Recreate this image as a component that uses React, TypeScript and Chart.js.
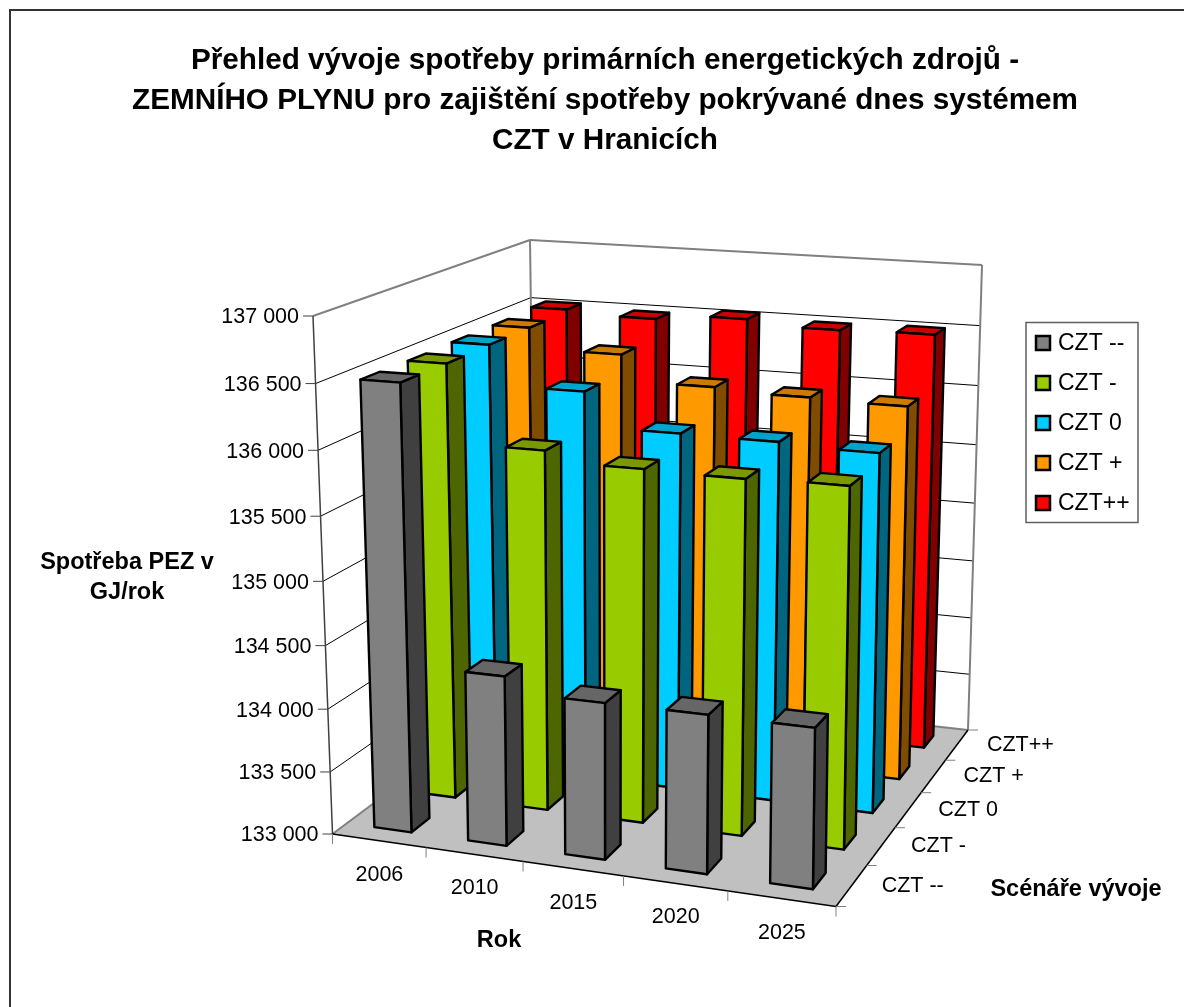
import React, { useEffect, useRef } from "react";
import { Chart, BarController, BarElement, CategoryScale, LinearScale, Title } from "chart.js";

const years = ["2006", "2010", "2015", "2020", "2025"];
const scenarios = ["CZT --", "CZT -", "CZT 0", "CZT +", "CZT++"];
const cztMinusMinus = [136500, 134335, 134220, 134223, 134220];
const cztMinus = [136495, 135880, 135800, 135790, 135803];
const cztZero = [136500, 136180, 135905, 135900, 135875];
const cztPlus = [136500, 136330, 136118, 136090, 136075];
const cztPlusPlus = [136520, 136488, 136535, 136492, 136505];

const fills = ["#808080", "#99CC00", "#00CCFF", "#FF9900", "#FF0000"];
const sides = ["#404040", "#4D6600", "#006680", "#804D00", "#800000"];
const tops = ["#666666", "#7A9900", "#00A3CC", "#CC7A00", "#CC0000"];

type Pt = [number, number];
function quad(p: Pt[]) {
  const [[x0, y0], [x1, y1], [x2, y2], [x3, y3]] = p;
  const dx1 = x1 - x2, dx2 = x3 - x2, sx = x0 - x1 + x2 - x3;
  const dy1 = y1 - y2, dy2 = y3 - y2, sy = y0 - y1 + y2 - y3;
  const den = dx1 * dy2 - dx2 * dy1;
  const g = (sx * dy2 - dx2 * sy) / den;
  const h = (dx1 * sy - sx * dy1) / den;
  const a = x1 - x0 + g * x1, b = x3 - x0 + h * x3;
  const d = y1 - y0 + g * y1, e = y3 - y0 + h * y3;
  return (u: number, v: number): Pt => {
    const q = g * u + h * v + 1;
    return [(a * u + b * v + x0) / q, (d * u + e * v + y0) / q];
  };
}
// Cube of the 3D view: front-left, front-right, back-right, back-left
const floorAt = quad([[332.5, 834], [836, 906.5], [968, 730], [536, 682]]);
const ceilAt = quad([[313, 316], [843, 350], [982, 265], [530, 240]]);
const project = (u: number, v: number, w: number): Pt => {
  const a = floorAt(u, v), b = ceilAt(u, v);
  const t = w / (w + 1.05 * (1 - w));
  return [a[0] + (b[0] - a[0]) * t, a[1] + (b[1] - a[1]) * t];
};

const poly = (ctx: CanvasRenderingContext2D, pts: Pt[], fill: string | null, stroke: string | null, lw = 1) => {
  ctx.beginPath();
  pts.forEach((p, i) => (i ? ctx.lineTo(p[0], p[1]) : ctx.moveTo(p[0], p[1])));
  ctx.closePath();
  if (fill) { ctx.fillStyle = fill; ctx.fill(); }
  if (stroke) { ctx.strokeStyle = stroke; ctx.lineWidth = lw; ctx.lineJoin = "round"; ctx.stroke(); }
};
const seg = (ctx: CanvasRenderingContext2D, a: Pt, b: Pt, color: string, lw = 1) => {
  ctx.beginPath(); ctx.moveTo(a[0], a[1]); ctx.lineTo(b[0], b[1]);
  ctx.strokeStyle = color; ctx.lineWidth = lw; ctx.stroke();
};

const norm = (chart: any) => {
  const { x, y, z } = chart.scales;
  return {
    u: (i: number) => (x.getPixelForValue(i) - x.left) / x.width,
    v: (i: number) => (z.getPixelForValue(i) - z.left) / z.width,
    w: (val: number) => (y.bottom - y.getPixelForValue(val)) / y.height,
  };
};

class Bar3DController extends (BarController as any) {
  draw() {
    const chart = (this as any).chart;
    const ctx: CanvasRenderingContext2D = chart.ctx;
    const di: number = (this as any).index;
    const meta = (this as any)._cachedMeta;
    const { u, v, w } = norm(chart);
    const half = 0.2;
    const v0 = v(di - half), v1 = v(di + half);
    const base = w(chart.scales.y.min);
    ctx.save();
    meta.data.forEach((_: any, i: number) => {
      const val = (this as any).getParsed(i).y;
      const u0 = u(i - half), u1 = u(i + half), t = w(val);
      poly(ctx, [project(u1, v0, base), project(u1, v1, base), project(u1, v1, t), project(u1, v0, t)], sides[di], "#000", 2.4);
      poly(ctx, [project(u0, v0, t), project(u1, v0, t), project(u1, v1, t), project(u0, v1, t)], tops[di], "#000", 2.4);
      poly(ctx, [project(u0, v0, base), project(u1, v0, base), project(u1, v0, t), project(u0, v0, t)], fills[di], "#000", 2.4);
    });
    ctx.restore();
  }
}
(Bar3DController as any).id = "bar3d";
(Bar3DController as any).defaults = (BarController as any).defaults;
(Bar3DController as any).overrides = (BarController as any).overrides;

const FONT = '"Liberation Sans", Arial, sans-serif';
const tickFont = `21.5px ${FONT}`;
const legendFont = `23px ${FONT}`;
const boldFont = `bold 23.5px ${FONT}`;

const scene = {
  id: "scene",
  beforeDatasetsDraw(chart: any) {
    const ctx: CanvasRenderingContext2D = chart.ctx;
    const { u, v, w } = norm(chart);
    const { x, y, z } = chart.scales;
    ctx.save();
    // outer frame
    ctx.strokeStyle = "#333333"; ctx.lineWidth = 2;
    ctx.strokeRect(10, 10, 1300, 1300);
    // walls & floor
    poly(ctx, [project(0, 0, 0), project(0, 1, 0), project(0, 1, 1), project(0, 0, 1)], "#FFFFFF", null);
    poly(ctx, [project(0, 1, 0), project(1, 1, 0), project(1, 1, 1), project(0, 1, 1)], "#FFFFFF", null);
    poly(ctx, [project(0, 0, 0), project(1, 0, 0), project(1, 1, 0), project(0, 1, 0)], "#C0C0C0", null);
    // gridlines + value axis labels
    ctx.font = tickFont; ctx.textAlign = "right"; ctx.textBaseline = "middle"; 
    y.ticks.forEach((t: any) => {
      const h = w(t.value);
      const a = project(0, 0, h), b = project(0, 1, h), c = project(1, 1, h);
      if (h > 0 && h < 1) { seg(ctx, a, b, "#000"); seg(ctx, b, c, "#000"); }
      seg(ctx, [a[0] - 10, a[1]], a, "#404040");
      ctx.fillStyle = "#000";
      ctx.fillText(t.label, a[0] - 14, a[1] + 1.5);
    });
    // wall edges
    const G = "#808080";
    seg(ctx, project(0, 0, 1), project(0, 1, 1), G, 2);
    seg(ctx, project(0, 1, 1), project(1, 1, 1), G, 2);
    seg(ctx, project(0, 1, 1), project(0, 1, 0), G, 2);
    seg(ctx, project(1, 1, 1), project(1, 1, 0), G, 2);
    seg(ctx, project(0, 0, 0), project(0, 1, 0), G, 2);
    seg(ctx, project(0, 1, 0), project(1, 1, 0), G, 2);
    seg(ctx, project(0, 0, 1), project(0, 0, 0), "#404040", 1.5);
    seg(ctx, project(0, 0, 0), project(1, 0, 0), "#000", 1.5);
    seg(ctx, project(1, 0, 0), project(1, 1, 0), "#000", 1.5);
    // category axis
    ctx.textAlign = "center";
    const nx = x.ticks.length;
    for (let i = 0; i <= nx; i++) {
      const p = project(u(i - 0.5), 0, 0);
      seg(ctx, p, [p[0], p[1] + 10], "#808080");
    }
    x.ticks.forEach((t: any, i: number) => {
      const p = project(u(i), 0, 0);
      ctx.fillStyle = "#000";
      ctx.fillText(t.label, p[0] + 0.5, p[1] + 34);
    });
    // depth axis
    ctx.textAlign = "left";
    const nz = z.ticks.length;
    for (let i = 0; i <= nz; i++) {
      const p = project(1, v(i - 0.5), 0);
      seg(ctx, p, [p[0] + 10, p[1]], "#808080");
    }
    z.ticks.forEach((t: any, i: number) => {
      const p = project(1, v(i), 0);
      ctx.fillStyle = "#000";
      ctx.fillText(t.label, p[0] + 30, p[1]);
    });
    // axis titles
    ctx.font = boldFont; ctx.textAlign = "center"; ctx.fillStyle = "#000";
    ctx.fillText(y.options.title.text[0], 127, 563);
    ctx.fillText(y.options.title.text[1], 127, 593);
    ctx.fillText(x.options.title.text, 499, 941);
    ctx.fillText(z.options.title.text, 1076, 890);
    // legend
    ctx.strokeStyle = "#606060"; ctx.lineWidth = 1.5;
    ctx.strokeRect(1026, 322.5, 112, 200);
    chart.data.datasets.forEach((d: any, i: number) => {
      const cy = 343 + i * 40;
      ctx.fillStyle = fills[i]; ctx.strokeStyle = "#000"; ctx.lineWidth = 2.5;
      ctx.fillRect(1036, cy - 7, 14, 14); ctx.strokeRect(1036, cy - 7, 14, 14);
      ctx.font = legendFont; ctx.textAlign = "left"; ctx.fillStyle = "#000";
      ctx.fillText(d.label, 1058, cy + 0.5);
    });
    ctx.restore();
  },
};

Chart.register(Bar3DController as any, BarElement, CategoryScale, LinearScale, Title, scene);

const allSeries = [cztMinusMinus, cztMinus, cztZero, cztPlus, cztPlusPlus];

export default function App() {
  const ref = useRef<HTMLCanvasElement>(null);
  useEffect(() => {
    const chart = new Chart(ref.current as any, {
      type: "bar3d" as any,
      data: {
        labels: years,
        datasets: allSeries.map((data, i) => ({ label: scenarios[i], data, backgroundColor: fills[i], clip: false as any })),
      },
      options: {
        animation: false,
        responsive: false,
        devicePixelRatio: 1,
        layout: { padding: { left: 26, top: 0, right: 0, bottom: 0 } },
        plugins: {
          legend: { display: false },
          tooltip: { enabled: false },
          title: {
            display: true,
            text: [
              "Přehled vývoje spotřeby primárních energetických zdrojů -",
              "ZEMNÍHO PLYNU pro zajištění spotřeby pokrývané dnes systémem",
              "CZT v Hranicích",
            ],
            color: "#000",
            font: { family: FONT, size: 29.7, weight: "bold", lineHeight: 1.347 },
            padding: { top: 41, bottom: 10 },
          },
        } as any,
        scales: {
          x: { type: "category", display: false, offset: true, title: { text: "Rok" }, ticks: { autoSkip: false } },
          z: { type: "category", axis: "x", position: "top", display: false, offset: true, labels: scenarios, title: { text: "Scénáře vývoje" }, ticks: { autoSkip: false } },
          y: {
            type: "linear", display: false, min: 133000, max: 137000,
            title: { text: ["Spotřeba PEZ v", "GJ/rok"] },
            ticks: { stepSize: 500, callback: (v: any) => String(v).replace(/(\d{3})$/, " $1") },
          },
        } as any,
      } as any,
    });
    return () => chart.destroy();
  }, []);
  return (
    <div style={{ position: "absolute", left: 0, top: 0, width: 1184, height: 1007, overflow: "hidden", background: "#fff" }}>
      <canvas ref={ref} width={1184} height={1007} style={{ display: "block" }} />
    </div>
  );
}
